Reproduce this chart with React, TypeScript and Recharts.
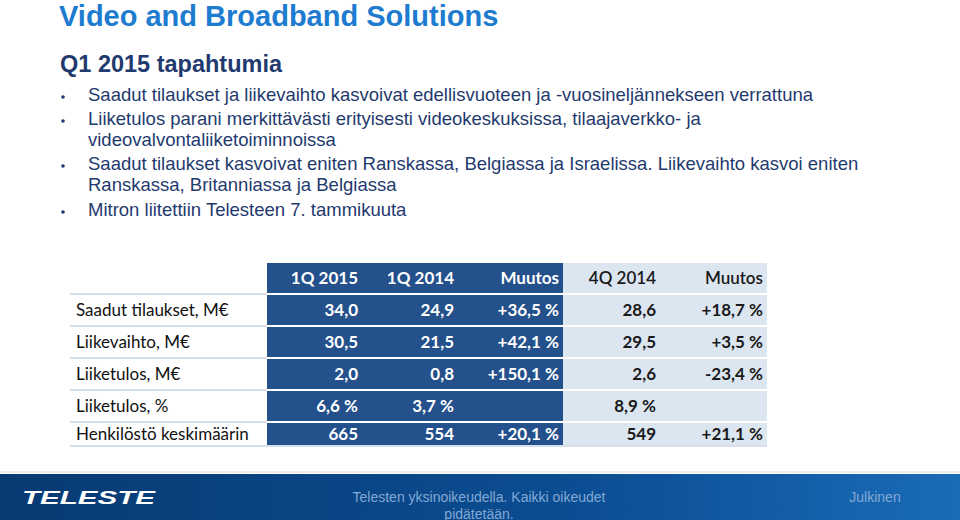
import { Surface, Layer, Rectangle, Text } from "recharts"

const title = "Video and Broadband Solutions"
const subtitle = "Q1 2015 tapahtumia"

// each bullet is a list of the lines it wraps onto
const bullets = [
  ["Saadut tilaukset ja liikevaihto kasvoivat edellisvuoteen ja -vuosineljännekseen verrattuna"],
  ["Liiketulos parani merkittävästi erityisesti videokeskuksissa, tilaajaverkko- ja", "videovalvontaliiketoiminnoissa"],
  [
    "Saadut tilaukset kasvoivat eniten Ranskassa, Belgiassa ja Israelissa. Liikevaihto kasvoi eniten",
    "Ranskassa, Britanniassa ja Belgiassa",
  ],
  ["Mitron liitettiin Telesteen 7. tammikuuta"],
]

const columns = ["1Q 2015", "1Q 2014", "Muutos", "4Q 2014", "Muutos"]
const rowLabels = ["Saadut tilaukset, M€", "Liikevaihto, M€", "Liiketulos, M€", "Liiketulos, %", "Henkilöstö keskimäärin"]
const q1_2015 = ["34,0", "30,5", "2,0", "6,6 %", "665"]
const q1_2014 = ["24,9", "21,5", "0,8", "3,7 %", "554"]
const changeYear = ["+36,5 %", "+42,1 %", "+150,1 %", "", "+20,1 %"]
const q4_2014 = ["28,6", "29,5", "2,6", "8,9 %", "549"]
const changeQuarter = ["+18,7 %", "+3,5 %", "-23,4 %", "", "+21,1 %"]

const footerText = ["Telesten yksinoikeudella. Kaikki oikeudet", "pidätetään."]
const footerRight = "Julkinen"

const DARK = "#24508c"
const LIGHT = "#dce6f1"
const NAVY = "#1f3a6e"
const ARIAL = "'Liberation Sans', Arial, sans-serif"
const tableFont = "Lato, 'Open Sans', sans-serif"

function KeyTable() {
  const cols = [q1_2015, q1_2014, changeYear, q4_2014, changeQuarter]
  const left = 70
  const labelRight = 267
  // right edges of the five value columns
  const edges = [267, 362, 458, 563, 660, 767]
  const headerTop = 263
  const headerH = 30
  const rowH = 30
  const gap = 2
  const rowTops = rowLabels.map((_, i) => headerTop + headerH + gap + i * (rowH + gap))
  const lastH = 22
  const heightOf = (i: number) => (i === rowLabels.length - 1 ? lastH : rowH)
  const bottom = rowTops[rowTops.length - 1] + lastH

  return (
    <Layer>
      <Rectangle x={edges[0]} y={headerTop} width={edges[3] - edges[0]} height={bottom - headerTop} fill={DARK} />
      <Rectangle x={edges[3]} y={headerTop} width={edges[5] - edges[3]} height={bottom - headerTop} fill={LIGHT} />
      {rowTops.map((t, i) => (
        <Rectangle key={i} x={left} y={t - gap} width={edges[5] - left} height={gap} fill="#ffffff" />
      ))}
      {rowTops.map((t, i) => (
        <line key={i} x1={left} x2={labelRight} y1={t - 1} y2={t - 1} stroke="#c9d5e3" strokeWidth={1.5} />
      ))}
      <line x1={left} x2={edges[5]} y1={bottom + 1} y2={bottom + 1} stroke="#c9d5e3" strokeWidth={1.5} />

      {columns.map((c, j) => (
        <Text
          key={j}
          x={edges[j + 1] - 4}
          y={headerTop + headerH / 2}
          textAnchor="end"
          verticalAnchor="middle"
          fontFamily={tableFont}
          fontSize={17}
          fontWeight={j < 3 ? 700 : 600}
          fill={j < 3 ? "#ffffff" : "#1a1a1a"}
        >
          {c}
        </Text>
      ))}

      {rowLabels.map((label, i) => (
        <Text
          key={label}
          x={left + 6}
          y={rowTops[i] + heightOf(i) / 2}
          verticalAnchor="middle"
          fontFamily={tableFont}
          fontSize={17}
          fill="#111111"
        >
          {label}
        </Text>
      ))}

      {cols.map((vals, j) =>
        vals.map((v, i) => (
          <Text
            key={`${j}-${i}`}
            x={edges[j + 1] - 4}
            y={rowTops[i] + heightOf(i) / 2}
            textAnchor="end"
            verticalAnchor="middle"
            fontFamily={tableFont}
            fontSize={17}
            fontWeight={700}
            fill={j < 3 ? "#ffffff" : "#1a1a1a"}
          >
            {v}
          </Text>
        ))
      )}
    </Layer>
  )
}

function Footer() {
  return (
    <Layer>
      <defs>
        <linearGradient id="footerGrad" x1="0" y1="0" x2="1" y2="0">
          <stop offset="0%" stopColor="#083a72" />
          <stop offset="60%" stopColor="#0b4d92" />
          <stop offset="100%" stopColor="#1a6bb8" />
        </linearGradient>
      </defs>
      <line x1={0} x2={960} y1={472} y2={472} stroke="#d8dde4" strokeWidth={1} />
      <Rectangle x={0} y={474} width={960} height={46} fill="url(#footerGrad)" />
      <text
        x={22}
        y={504}
        fill="#ffffff"
        fontFamily={ARIAL}
        fontSize={19}
        fontWeight={900}
        fontStyle="italic"
        textLength={133}
        lengthAdjust="spacingAndGlyphs"
      >
        TELESTE
      </text>
      {footerText.map((t, i) => (
        <text key={i} x={479} y={502 + i * 17} textAnchor="middle" fill="#82a9d6" fontFamily={ARIAL} fontSize={14}>
          {t}
        </text>
      ))}
      <text x={875} y={502} textAnchor="middle" fill="#82a9d6" fontFamily={ARIAL} fontSize={14}>
        {footerRight}
      </text>
    </Layer>
  )
}

export default function App() {
  let lineIdx = 0
  const lineYs = [96, 120, 141, 165, 186, 211]
  return (
    <div style={{ position: "absolute", left: 0, top: 0, width: 960, height: 520, background: "#ffffff", overflow: "hidden" }}>
      <Surface width={960} height={520}>
        <text x={59} y={18} dominantBaseline="middle" fill="#1d7bd0" fontFamily={ARIAL} fontSize={29} fontWeight={700}>
          {title}
        </text>
        <text x={60} y={66} dominantBaseline="middle" fill={NAVY} fontFamily={ARIAL} fontSize={23.5} fontWeight={700}>
          {subtitle}
        </text>
        {bullets.map((lines, b) => (
          <Layer key={b}>
            {lines.map((line, k) => {
              const y = lineYs[lineIdx++]
              return (
                <Layer key={k}>
                  {k === 0 && <circle cx={63} cy={y + 1} r={1.8} fill={NAVY} />}
                  <text x={88} y={y} dominantBaseline="middle" fill={NAVY} fontFamily={ARIAL} fontSize={18.5}>
                    {line}
                  </text>
                </Layer>
              )
            })}
          </Layer>
        ))}
        <KeyTable />
        <Footer />
      </Surface>
    </div>
  )
}
